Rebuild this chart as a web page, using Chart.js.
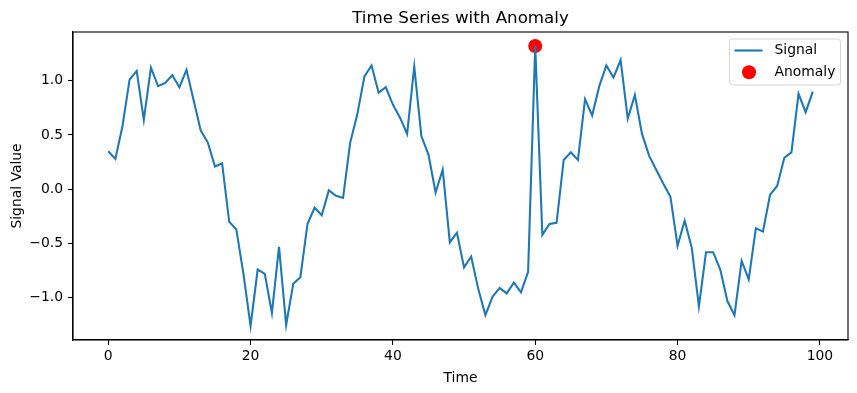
<!DOCTYPE html>
<html>
<head>
<meta charset="utf-8">
<script src="https://cdn.jsdelivr.net/npm/chart.js@4/dist/chart.umd.min.js"></script>
<style>
  html, body { margin: 0; padding: 0; background: #fff; }
  canvas { display: block; }
</style>
</head>
<body>
<canvas id="chart" width="857" height="393"></canvas>
<script>
const time = [
  0, 1, 2, 3, 4, 5, 6, 7, 8, 9,
  10, 11, 12, 13, 14, 15, 16, 17, 18, 19,
  20, 21, 22, 23, 24, 25, 26, 27, 28, 29,
  30, 31, 32, 33, 34, 35, 36, 37, 38, 39,
  40, 41, 42, 43, 44, 45, 46, 47, 48, 49,
  50, 51, 52, 53, 54, 55, 56, 57, 58, 59,
  60, 61, 62, 63, 64, 65, 66, 67, 68, 69,
  70, 71, 72, 73, 74, 75, 76, 77, 78, 79,
  80, 81, 82, 83, 84, 85, 86, 87, 88, 89,
  90, 91, 92, 93, 94, 95, 96, 97, 98, 99
];
const signal = [
  0.35, 0.28, 0.58, 1.01, 1.09, 0.64, 1.12, 0.95, 0.98, 1.05,
  0.94, 1.10, 0.82, 0.54, 0.43, 0.21, 0.24, -0.30, -0.37, -0.78,
  -1.26, -0.74, -0.78, -1.14, -0.53, -1.25, -0.87, -0.81, -0.32, -0.17,
  -0.24, -0.01, -0.06, -0.08, 0.43, 0.69, 1.04, 1.14, 0.89, 0.94,
  0.78, 0.66, 0.51, 1.13, 0.49, 0.32, -0.03, 0.18, -0.49, -0.40,
  -0.72, -0.62, -0.92, -1.16, -0.99, -0.91, -0.96, -0.86, -0.95, -0.76,
  1.32, -0.42, -0.32, -0.31, 0.27, 0.34, 0.27, 0.83, 0.68, 0.95,
  1.14, 1.03, 1.19, 0.65, 0.87, 0.51, 0.31, 0.18, 0.05, -0.07,
  -0.52, -0.29, -0.54, -1.08, -0.58, -0.58, -0.74, -1.03, -1.16, -0.66,
  -0.83, -0.36, -0.39, -0.05, 0.03, 0.29, 0.34, 0.88, 0.71, 0.90
];
const anomalyTime = [60];
const anomalyValue = [1.32];
const xTicks = [0, 20, 40, 60, 80, 100];
const yTicks = [-1.0, -0.5, 0.0, 0.5, 1.0];

const blue = "#1f77b4";
const font = { family: "DejaVu Sans", size: 13.9 };

// matplotlib-style 5% margins
const xMin = Math.min(...time), xMax = Math.max(...time);
const yMin = Math.min(...signal), yMax = Math.max(...signal);
const xPad = (xMax - xMin) * 0.05, yPad = (yMax - yMin) * 0.05;

const fmt = (v) => v.toFixed(1).replace("-", "\u2212");

const framePlugin = {
  id: "frame",
  afterDraw(chart) {
    const { ctx, chartArea: a } = chart;
    ctx.save();
    // spines
    ctx.strokeStyle = "#000";
    ctx.lineWidth = 1.1;
    ctx.strokeRect(a.left, a.top, a.right - a.left, a.bottom - a.top);

    // title
    ctx.fillStyle = "#000";
    ctx.font = "16.7px 'DejaVu Sans'";
    ctx.textAlign = "center";
    ctx.textBaseline = "alphabetic";
    ctx.fillText("Time Series with Anomaly", (a.left + a.right) / 2, a.top - 9);

    // legend
    const w = 111, h = 46;
    const lx = a.right - 7.5 - w, ly = a.top + 7;
    ctx.beginPath();
    ctx.roundRect(lx, ly, w, h, 3);
    ctx.fillStyle = "rgba(255,255,255,0.8)";
    ctx.fill();
    ctx.strokeStyle = "#d6d6d6";
    ctx.lineWidth = 1;
    ctx.stroke();

    ctx.strokeStyle = blue;
    ctx.lineWidth = 2.08;
    ctx.beginPath();
    ctx.moveTo(lx + 5, ly + 11.5);
    ctx.lineTo(lx + 33, ly + 11.5);
    ctx.stroke();

    ctx.fillStyle = "red";
    ctx.beginPath();
    ctx.arc(lx + 19.5, ly + 33.3, 7, 0, Math.PI * 2);
    ctx.fill();

    ctx.fillStyle = "#000";
    ctx.font = "13.9px 'DejaVu Sans'";
    ctx.textAlign = "left";
    ctx.textBaseline = "middle";
    ctx.fillText("Signal", lx + 45, ly + 11.5);
    ctx.fillText("Anomaly", lx + 45, ly + 33.5);
    ctx.restore();
  }
};

new Chart(document.getElementById("chart"), {
  type: "scatter",
  data: {
    datasets: [
      {
        label: "Signal",
        data: time.map((t, i) => ({ x: t, y: signal[i] })),
        showLine: true,
        borderColor: blue,
        borderWidth: 2.08,
        pointRadius: 0,
        tension: 0,
      },
      {
        label: "Anomaly",
        data: anomalyTime.map((t, i) => ({ x: t, y: anomalyValue[i] })),
        backgroundColor: "red",
        borderWidth: 0,
        pointRadius: 7,
      },
    ],
  },
  options: {
    responsive: false,
    animation: false,
    layout: { padding: { top: 32, right: 9, left: 0, bottom: 0 } },
    scales: {
      x: {
        type: "linear",
        min: xMin - xPad,
        max: xMax + xPad,
        afterFit: (scale) => { scale.height = 53; },
        afterBuildTicks: (scale) => { scale.ticks = xTicks.map((v) => ({ value: v })); },
        ticks: { font, color: "#000", padding: 3, maxRotation: 0, autoSkip: false, callback: (v) => String(v) },
        grid: { drawOnChartArea: false, tickLength: 5, tickColor: "#000", tickWidth: 1.1 },
        border: { color: "#000", width: 1.1 },
        title: { display: true, text: "Time", font, color: "#000", padding: { top: 0, bottom: 6 } },
      },
      y: {
        min: yMin - yPad,
        max: yMax + yPad,
        afterFit: (scale) => { scale.width = 73; },
        afterBuildTicks: (scale) => { scale.ticks = yTicks.map((v) => ({ value: v })); },
        ticks: { font, color: "#000", padding: 5, autoSkip: false, callback: (v) => fmt(v) },
        grid: { drawOnChartArea: false, tickLength: 5, tickColor: "#000", tickWidth: 1.1 },
        border: { color: "#000", width: 1.1 },
        title: { display: true, text: "Signal Value", font, color: "#000", padding: { top: 9, bottom: 0 } },
      },
    },
    plugins: {
      legend: { display: false },
      tooltip: { enabled: false },
    },
  },
  plugins: [framePlugin],
});
</script>
</body>
</html>
